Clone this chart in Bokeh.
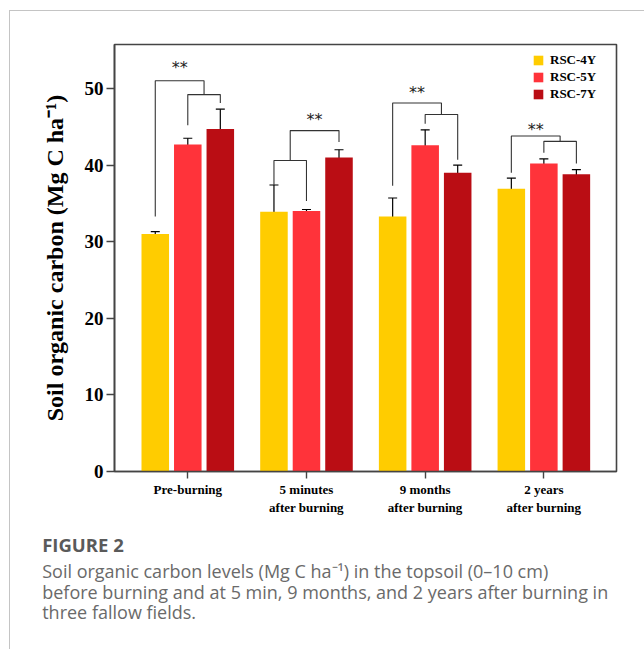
from bokeh.plotting import figure
from bokeh.models import (ColumnDataSource, Range1d, Whisker, TeeHead, Title,
                          Legend, LegendItem, FixedTicker)
from bokeh.embed import file_html
from bokeh.resources import INLINE
from bokeh.core.properties import value

# ---------------- data ----------------
groups = ["Pre-burning", "5 minutes\nafter burning", "9 months\nafter burning", "2 years\nafter burning"]
series = ["RSC-4Y", "RSC-5Y", "RSC-7Y"]
rsc4y = [31.0, 33.9, 33.3, 36.9]
rsc4y_err = [0.3, 3.5, 2.4, 1.4]
rsc5y = [42.7, 34.0, 42.6, 40.2]
rsc5y_err = [0.8, 0.2, 2.0, 0.6]
rsc7y = [44.7, 41.0, 39.0, 38.8]
rsc7y_err = [2.6, 1.0, 1.0, 0.6]
y_ticks = [0, 10, 20, 30, 40, 50]

# significance brackets
inner_pair = [(1, 2), (0, 1), (1, 2), (1, 2)]
inner_y = [49.2, 40.6, 46.6, 43.1]
outer_y = [51.0, 44.5, 48.1, 43.8]
leg_bottom_4y = [33.3, 37.4, 37.3, 39.0]
leg_bottom_5y = [45.2, 35.3, 45.4, 41.6]
leg_bottom_7y = [48.1, 43.0, 40.7, 40.2]
star_y = [52.7, 45.9, 49.5, 44.6]
star_text = ["**", "**", "**", "**"]

caption_title = "FIGURE 2"
caption_lines = [
    "Soil organic carbon levels (Mg C ha\u207b\u00b9) in the topsoil (0\u201310 cm)",
    "before burning and at 5 min, 9 months, and 2 years after burning in",
    "three fallow fields.",
]

colors = ["#FFCC00", "#FF333A", "#BA0D14"]
offsets = [-0.274, 0.0, 0.274]
bar_w = 0.232

values = [rsc4y, rsc5y, rsc7y]
errors = [rsc4y_err, rsc5y_err, rsc7y_err]
leg_bottoms = [leg_bottom_4y, leg_bottom_5y, leg_bottom_7y]

FL, FT, FR, FB = 114, 44, 28, 178   # frame borders (px)
W, H = 644, 649

card_css = ("linear-gradient(#c4c4c4, #c4c4c4) 10px 10px / 100% 1px no-repeat, "
            "linear-gradient(#c4c4c4, #c4c4c4) 9px 10px / 1px 100% no-repeat, white")

p = figure(width=W, height=H, output_backend="svg", toolbar_location=None,
           x_range=Range1d(-0.6175, 3.612), y_range=Range1d(0, 55.74),
           min_border_left=FL, min_border_right=FR, min_border_top=FT, min_border_bottom=FB,
           styles={"background": card_css})
p.background_fill_color = "white"
p.border_fill_alpha = 0
p.outline_line_color = "#444444"
p.outline_line_width = 1.6
p.xgrid.visible = False
p.ygrid.visible = False

serif = "Liberation Serif"

legend_items = []
for k in range(3):
    xs = [i + offsets[k] for i in range(len(groups))]
    src = ColumnDataSource(dict(
        x=xs, top=values[k],
        upper=[v + e for v, e in zip(values[k], errors[k])],
        lower=[v - e for v, e in zip(values[k], errors[k])],
    ))
    r = p.vbar(x="x", top="top", width=bar_w, bottom=0, source=src,
               fill_color=colors[k], line_color=None)
    legend_items.append(LegendItem(label=series[k], renderers=[r]))
    w = Whisker(base="x", upper="upper", lower="lower", source=src,
                line_color="black", line_width=1.2,
                upper_head=TeeHead(size=9, line_color="black", line_width=1.2),
                lower_head=TeeHead(size=9, line_color="black", line_width=1.2))
    p.add_layout(w)

# brackets
bx, by = [], []
for g in range(len(groups)):
    a, b = inner_pair[g]
    c = [k for k in range(3) if k not in (a, b)][0]
    xa, xb, xc = g + offsets[a], g + offsets[b], g + offsets[c]
    m = (xa + xb) / 2
    bx.append([xa, xa, xb, xb])
    by.append([leg_bottoms[a][g], inner_y[g], inner_y[g], leg_bottoms[b][g]])
    bx.append([m, m, xc, xc])
    by.append([inner_y[g], outer_y[g], outer_y[g], leg_bottoms[c][g]])
p.multi_line(bx, by, line_color="#333333", line_width=1.1)

star_x = []
for g in range(len(groups)):
    a, b = inner_pair[g]
    c = [k for k in range(3) if k not in (a, b)][0]
    m = (g + offsets[a] + g + offsets[b]) / 2
    star_x.append((m + g + offsets[c]) / 2)
p.text(x=star_x, y=star_y, text=star_text, text_align="center", text_baseline="middle",
       text_font=value("DejaVu Sans"), text_font_size="16px", text_color="#222222")

# axes
p.xaxis.ticker = FixedTicker(ticks=list(range(len(groups))))
p.xaxis.major_label_overrides = {i: groups[i] for i in range(len(groups))}
p.xaxis.major_label_text_font = serif
p.xaxis.major_label_text_font_style = "bold"
p.xaxis.major_label_text_font_size = "13px"
p.xaxis.major_label_text_color = "black"
p.xaxis.major_tick_out = 7
p.xaxis.major_tick_in = 0
p.xaxis.minor_tick_line_color = None
p.xaxis.major_label_standoff = 3
p.xaxis.axis_line_color = "#444444"
p.xaxis.axis_line_width = 1.6
p.xaxis.major_tick_line_color = "#444444"
p.xaxis.major_tick_line_width = 1.4

p.yaxis.ticker = FixedTicker(ticks=y_ticks)
p.yaxis.major_label_text_font = serif
p.yaxis.major_label_text_font_style = "bold"
p.yaxis.major_label_text_font_size = "19px"
p.yaxis.major_label_text_color = "black"
p.yaxis.major_tick_out = 8
p.yaxis.major_tick_in = 0
p.yaxis.minor_tick_line_color = None
p.yaxis.major_label_standoff = 3
p.yaxis.axis_line_color = "#444444"
p.yaxis.axis_line_width = 1.6
p.yaxis.major_tick_line_color = "#444444"
p.yaxis.major_tick_line_width = 1.4
p.yaxis.axis_label = "Soil organic carbon (Mg C ha\u207b\u00b9)"
p.yaxis.axis_label_text_font = serif
p.yaxis.axis_label_text_font_style = "bold"
p.yaxis.axis_label_text_font_size = "24px"
p.yaxis.axis_label_text_color = "black"
p.yaxis.axis_label_standoff = 14

legend = Legend(items=legend_items, location=(418, 369))
legend.border_line_color = None
legend.background_fill_alpha = 0
legend.padding = 0
legend.margin = 0
legend.spacing = 1
legend.glyph_width = 12
legend.glyph_height = 12
legend.label_height = 12
legend.label_standoff = 6
legend.label_text_font = serif
legend.label_text_font_style = "bold"
legend.label_text_font_size = "13px"
legend.label_text_color = "black"
p.add_layout(legend)

# caption as titles below the plot
cap_offset = 41.7 - FL
cap_standoffs = [-23, 12, -23]
p.add_layout(Title(text=caption_title, align="left", offset=cap_offset, standoff=24,
                   text_font="Open Sans", text_font_style="bold", text_font_size="18.5px",
                   text_color="#5a5a5a"), "below")
for line, so in zip(caption_lines, cap_standoffs):
    p.add_layout(Title(text=line, align="left", offset=cap_offset, standoff=so,
                       text_font="Open Sans", text_font_style="normal", text_font_size="18px",
                       text_color="#6a6a6a"), "below")

open("out.html", "w").write(file_html(p, INLINE))
